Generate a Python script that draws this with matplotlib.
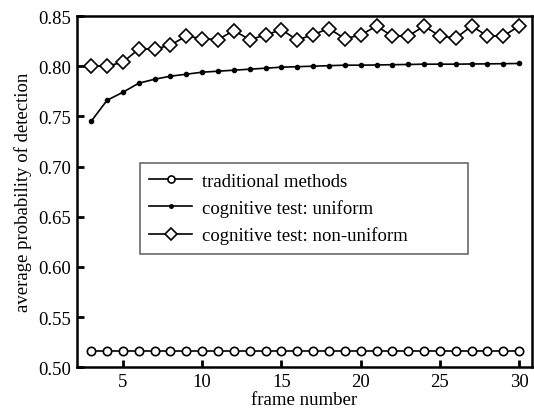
import matplotlib
matplotlib.use("Agg")
import matplotlib.pyplot as plt
import numpy as np

plt.rcParams['font.family'] = ['Liberation Serif', 'DejaVu Serif']

frames = list(range(3, 31))
traditional = [0.516] * 28
uniform = [0.745, 0.766, 0.774, 0.783, 0.787, 0.790, 0.792, 0.794, 0.795, 0.796,
           0.797, 0.798, 0.799, 0.7995, 0.800, 0.8005, 0.801, 0.801, 0.8012, 0.8015,
           0.8017, 0.802, 0.802, 0.802, 0.8022, 0.8023, 0.8025, 0.8027]
nonuniform = [0.800, 0.800, 0.804, 0.817, 0.817, 0.821, 0.830, 0.8275, 0.8265, 0.8355,
              0.8265, 0.831, 0.8365, 0.826, 0.8315, 0.8375, 0.8275, 0.831, 0.840, 0.830,
              0.830, 0.840, 0.830, 0.828, 0.840, 0.830, 0.830, 0.840]
labels = ['traditional methods', 'cognitive test: uniform', 'cognitive test: non-uniform']

FS = 13.5
fig = plt.figure(figsize=(5.34, 4.10), dpi=100)
ax = fig.add_axes([0.144, 0.102, 0.852, 0.8565])

ax.plot(frames, traditional, color='black', lw=1.2, marker='o', ms=6,
        mfc='white', mec='black', mew=1.2, label=labels[0])
ax.plot(frames, uniform, color='black', lw=1.2, marker='o', ms=3,
        mfc='black', mec='black', label=labels[1])
ax.plot(frames, nonuniform, color='black', lw=1.2, marker='D', ms=6.8,
        mfc='white', mec='black', mew=1.2, label=labels[2])

ax.set_xlim(2.1, 30.8)
ax.set_ylim(0.50, 0.85)
ax.set_xticks([5, 10, 15, 20, 25, 30])
ax.set_yticks(np.arange(0.50, 0.851, 0.05))
ax.set_yticklabels(['%.2f' % v for v in np.arange(0.50, 0.851, 0.05)])
ax.tick_params(direction='in', length=5, width=2, labelsize=FS, pad=4)
for s in ax.spines.values():
    s.set_linewidth(1.8)

ax.set_xlabel('frame number', fontsize=FS, labelpad=1)
ax.set_ylabel('average probability of detection', fontsize=FS, labelpad=5)

leg = ax.legend(loc='upper left', bbox_to_anchor=(0.138, 0.581, 0.721, 0.0),
                mode='expand', fontsize=FS, markerscale=0.85,
                frameon=True, fancybox=False, edgecolor='#444444',
                handlelength=2.3, handletextpad=0.5, borderpad=0.5,
                labelspacing=0.5, borderaxespad=0)
leg.get_frame().set_linewidth(1.2)

fig.savefig('out.png', dpi=100)
